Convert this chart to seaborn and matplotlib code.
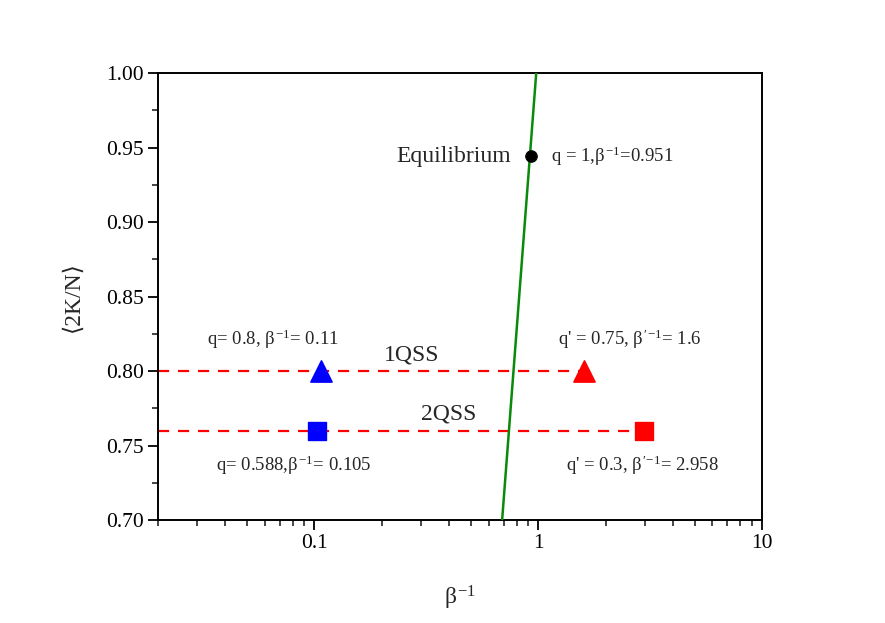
import matplotlib
matplotlib.use("Agg")
import matplotlib.pyplot as plt
import numpy as np
import pandas as pd
import seaborn as sns
from matplotlib.ticker import LogLocator, FixedLocator, FuncFormatter, MultipleLocator

# equilibrium curve (straight in log-x / linear-y)
eq_line_x = [0.69, 0.98]
eq_line_y = [0.70, 1.00]
eq_point_x = [0.925]
eq_point_y = [0.944]

# quasi-stationary states
qss_levels = [0.80, 0.76]
qss_names = ["1QSS", "2QSS"]
qss_start_x = [0.02, 0.02]
qss_end_x = [1.6, 2.958]
first_x = [0.107, 0.103]       # blue markers
second_x = [1.6, 2.958]        # red markers

labels_left = [r"q= 0.8, $\beta^{-1}$= 0.11", r"q= 0.588,$\beta^{-1}$= 0.105"]
labels_right = [r"q' = 0.75, $\beta'^{-1}$= 1.6", r"q' = 0.3, $\beta'^{-1}$= 2.958"]

sns.set_style("ticks")
plt.rcParams["font.family"] = ["Liberation Serif", "DejaVu Serif", "DejaVu Sans"]
plt.rcParams["mathtext.fontset"] = "custom"
plt.rcParams["mathtext.rm"] = "Liberation Serif"
plt.rcParams["mathtext.it"] = "Liberation Serif"
plt.rcParams["mathtext.bf"] = "Liberation Serif:bold"

fig = plt.figure(figsize=(8.85, 6.23), dpi=100)
ax = fig.add_axes([0.1785, 0.1653, 0.6825, 0.7175])

# dashed QSS lines
for lvl, x0, x1 in zip(qss_levels, qss_start_x, qss_end_x):
    df = pd.DataFrame({"x": [x0, x1], "y": [lvl, lvl]})
    sns.lineplot(data=df, x="x", y="y", ax=ax, color="red", lw=1.6,
                 linestyle=(0, (5, 4)), zorder=2)

# equilibrium line
sns.lineplot(x=eq_line_x, y=eq_line_y, ax=ax, color="#0a8a0a", lw=1.8, zorder=3)

# markers
sns.scatterplot(x=[first_x[0]], y=[qss_levels[0]], ax=ax, marker="^", s=230,
                color="blue", edgecolor="blue", zorder=4)
sns.scatterplot(x=[second_x[0]], y=[qss_levels[0]], ax=ax, marker="^", s=230,
                color="red", edgecolor="red", zorder=4)
sns.scatterplot(x=[first_x[1]], y=[qss_levels[1]], ax=ax, marker="s", s=150,
                color="blue", edgecolor="blue", zorder=4)
sns.scatterplot(x=[second_x[1]], y=[qss_levels[1]], ax=ax, marker="s", s=150,
                color="red", edgecolor="red", zorder=4)
sns.scatterplot(x=eq_point_x, y=eq_point_y, ax=ax, marker="o", s=70,
                color="black", edgecolor="black", zorder=5)

ax.set_xscale("log")
ax.set_xlim(0.02, 10)
ax.set_ylim(0.70, 1.00)
ax.yaxis.set_major_locator(MultipleLocator(0.05))
ax.yaxis.set_minor_locator(MultipleLocator(0.025))
ax.yaxis.set_major_formatter(FuncFormatter(lambda v, p: f"{v:.2f}"))
ax.xaxis.set_major_locator(FixedLocator([0.1, 1, 10]))
ax.xaxis.set_major_formatter(FuncFormatter(lambda v, p: f"{v:g}"))
ax.xaxis.set_minor_locator(LogLocator(base=10, subs=np.arange(2, 10)))

ax.tick_params(which="major", direction="out", length=7, width=1.3, labelsize=15.5,
               colors="black", pad=3)
ax.tick_params(which="minor", direction="out", length=4, width=1.2)
for sp in ax.spines.values():
    sp.set_linewidth(1.4)
    sp.set_color("black")

ax.set_xlabel(r"$\beta^{-1}$", fontsize=17, labelpad=22)
ax.set_ylabel("\u27e82K/N\u27e9", fontsize=17, labelpad=16)

# annotations
ax.text(0.755, 0.944, "Equilibrium", fontsize=17, ha="right", va="center")
ax.text(1.14, 0.944, r"q = 1,$\beta^{-1}$=0.951", fontsize=13.5, ha="left", va="center")
ax.text(0.0655, 0.821, labels_left[0], fontsize=13.5, ha="center", va="center")
ax.text(2.57, 0.821, labels_right[0], fontsize=13.5, ha="center", va="center")
ax.text(0.0805, 0.737, labels_left[1], fontsize=13.5, ha="center", va="center")
ax.text(2.91, 0.737, labels_right[1], fontsize=13.5, ha="center", va="center")
ax.text(0.271, 0.811, qss_names[0], fontsize=17, ha="center", va="center")
ax.text(0.397, 0.771, qss_names[1], fontsize=17, ha="center", va="center")

fig.savefig("out.png", dpi=100)
